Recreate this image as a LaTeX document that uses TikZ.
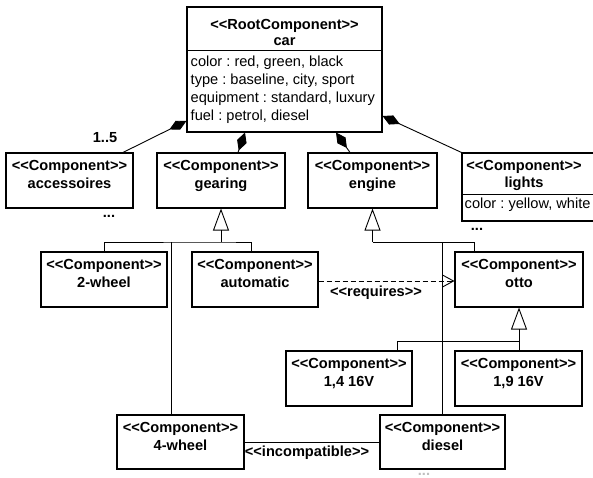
\documentclass[tikz,border=0pt]{standalone}
\usepackage{fontspec}
\setmainfont{Liberation Sans}
\usetikzlibrary{arrows.meta}
\frenchspacing
% stereotype brackets, kerned so that << and >> stay two separate characters
\newcommand\stereo[1]{<\kern0pt<#1>\kern0pt>}
\tikzset{
  umltext/.style={inner sep=0pt, font=\fontsize{14.6}{18}\selectfont},
  umlbold/.style={inner sep=0pt, font=\fontsize{14.6}{18}\selectfont\bfseries},
  classbox/.style={draw, line width=1.1pt, inner sep=0pt},
  link/.style={line width=0.9pt},
  composition/.style={link, {Diamond[length=19pt,width=10pt]}-},
  generalization/.style={link, {Triangle[open,length=22pt,width=16pt]}-},
  dependency/.style={link, dash pattern=on 5pt off 3pt, -{Straight Barb[length=11pt,width=12pt]}},
}
% #1 name, #2 left, #3 top, #4 right, #5 bottom, #6 component name
\newcommand\umlcomp[6]{%
  \node[classbox, minimum width={(#4-#2)*1pt}, minimum height={(#5-#3)*1pt}]
    (#1) at ({(#2+#4)/2},{(#3+#5)/2}) {};
  \node[umlbold, anchor=base] (#1-st) at ({(#2+#4)/2},{#3+17.5}) {\stereo{Component}};
  \node[umlbold, anchor=base] (#1-nm) at ({(#2+#4)/2},{#3+35}) {#6};
}
\begin{document}
\begin{tikzpicture}[x=1pt,y=-1pt]
\clip (0,0) rectangle (593,477);
\fill[white] (0,0) rectangle (593,477);

% root component with its attribute compartment
\node[classbox, minimum width=195pt, minimum height=125pt] (car) at (284.5,69.5) {};
\draw[line width=1.1pt] ([yshift=-44pt]car.north west) -- ([yshift=-44pt]car.north east);
\node[umlbold, anchor=base] (car-st) at (284.5,29) {\stereo{RootComponent}};
\node[umlbold, anchor=base] (car-nm) at (284.5,45.5) {car};
\node[umltext, anchor=base west] (car-a1) at (190.5,66) {color : red, green, black};
\node[umltext, anchor=base west] (car-a2) at (190.5,84) {type : baseline, city, sport};
\node[umltext, anchor=base west] (car-a3) at (190.5,102) {equipment : standard, luxury};
\node[umltext, anchor=base west] (car-a4) at (190.5,120) {fuel : petrol, diesel};

% first level components
\umlcomp{acc}{6}{153}{133}{208}{accessoires}
\umlcomp{gear}{157}{153}{285}{208}{gearing}
\umlcomp{engine}{308}{153}{437}{208}{engine}

\node[classbox, minimum width=138pt, minimum height=68pt] (lights) at (531,187) {};
\draw[line width=1.1pt] ([yshift=-42pt]lights.north west) -- ([yshift=-42pt]lights.north east);
\node[umlbold, anchor=base] (lights-st) at (524,170) {\stereo{Component}};
\node[umlbold, anchor=base] (lights-nm) at (524,187.5) {lights};
\node[umltext, anchor=base west] (lights-a1) at (464.5,208.5) {color : yellow, white};

\node[umlbold, anchor=base] (acc-more) at (109,217) {...};
\node[umlbold, anchor=base] (lights-more) at (477,230) {...};
\node[umlbold, anchor=base] (mult) at (105,142) {1..5};

% variants
\umlcomp{w2}{41}{252}{167}{307}{2-wheel}
\umlcomp{auto}{192}{252}{318}{307}{automatic}
\umlcomp{otto}{455}{252}{583}{307}{otto}
\umlcomp{v14}{286}{351}{412}{406}{1,4 16V}
\umlcomp{v19}{455}{351}{582}{406}{1,9 16V}
\umlcomp{w4}{117}{415}{244}{469}{4-wheel}
\umlcomp{diesel}{380}{415}{505}{469}{diesel}
\node[umlbold, anchor=base, text=black!25] (diesel-more) at (424,475) {...};

% compositions from the root
\draw[composition] ([yshift=-51.5pt]car.west) -- ([xshift=53.5pt]acc.north);
\draw[composition] ([xshift=-39.5pt]car.south) -- ([xshift=17pt]gear.north);
\draw[composition] ([xshift=51.5pt]car.south) -- ([xshift=-22.5pt]engine.north);
\draw[composition] ([yshift=-46.5pt]car.east) -- (lights.north west);

% gearing specialisations
\coordinate (gear-bus) at (221,242);
\coordinate (auto-join) at ([xshift=-3.5pt]auto.north);
\coordinate (w4-join) at ([xshift=-9.5pt]w4.north);
\draw[generalization] (gear.south) -- (gear-bus);
\draw[link] (w2.north) |- (gear-bus) -| (auto-join);
\draw[link] (w4-join) -- (w4-join |- gear-bus);

% engine specialisations
\coordinate (eng-bus) at (engine.south |- gear-bus);
\coordinate (otto-join) at ([xshift=-45pt]otto.north);
\draw[generalization] (engine.south) -- (eng-bus);
\draw[link] (eng-bus) -| (otto-join);
\draw[link] (diesel.north) -- (diesel.north |- eng-bus);

% otto specialisations
\coordinate (otto-bus) at ([yshift=-34pt]otto.south);
\coordinate (v14-join) at ([xshift=48pt]v14.north);
\draw[generalization] (otto.south) -- (otto-bus);
\draw[link] (v14-join) |- (otto-bus) -- (otto-bus |- v19.north);

% constraints
\draw[dependency] ([yshift=-1.5pt]auto.east) -- ([yshift=-1.5pt]otto.west);
\node[umlbold, anchor=base] (req) at (376,296) {\stereo{requires}};
\draw[link] (w4.east) -- (diesel.west);
\node[umlbold, anchor=base] (incomp) at (307,456) {\stereo{incompatible}};
\end{tikzpicture}
\end{document}
